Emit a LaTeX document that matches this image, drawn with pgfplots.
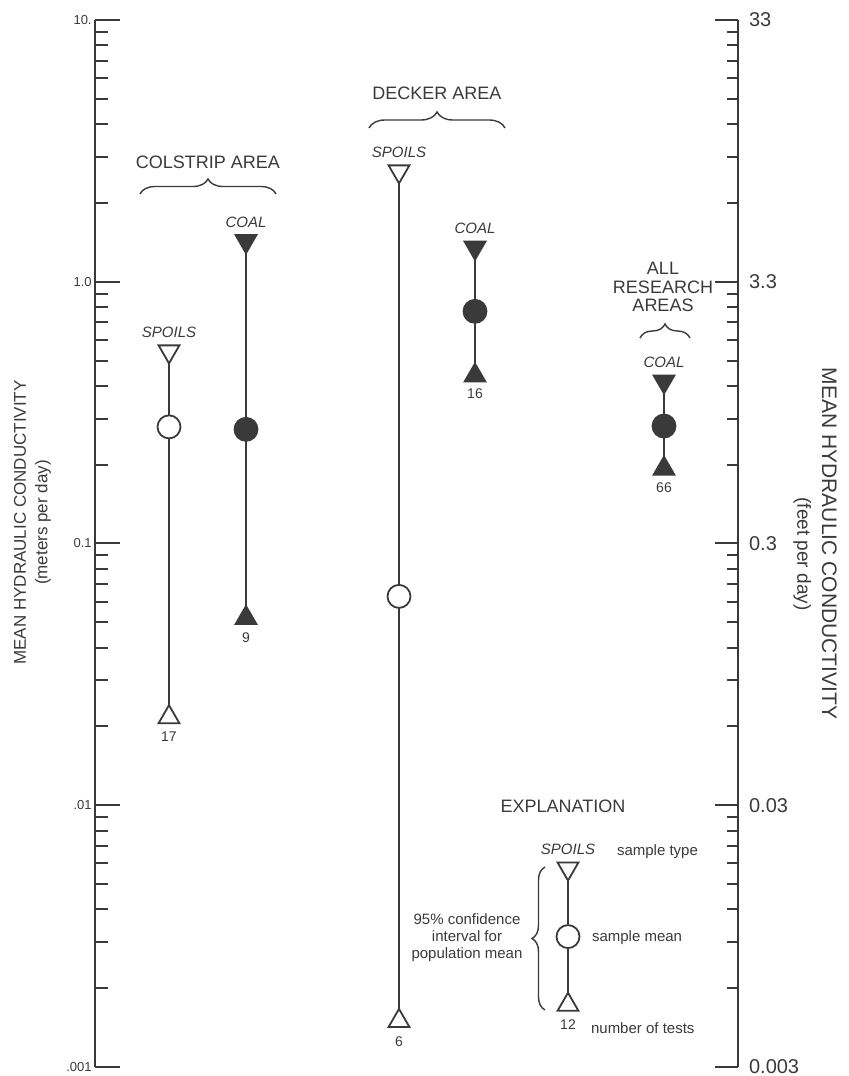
\documentclass[border=0pt]{standalone}
\usepackage{pgfplots}
\pgfplotsset{compat=1.18}
\usepackage{fontspec}
\setmainfont{Liberation Sans}
\usetikzlibrary{decorations.pathreplacing}
\definecolor{ink}{HTML}{3A3A3A}
\tikzset{
  lab/.style={font=\fontsize{9}{10}\selectfont, text=ink},
  sml/.style={font=\fontsize{7.5}{8.5}\selectfont, text=ink},
  num/.style={font=\fontsize{7}{8}\selectfont, text=ink},
}
\begin{document}
\begin{tikzpicture}
\useasboundingbox (-47.5pt,-4.5pt) rectangle (376.5pt,533.5pt);
% right axis (feet per day)
\begin{axis}[at={(0,0)}, anchor=south west, scale only axis,
    width=321.5pt, height=523.5pt,
    xmin=95, xmax=738, ymode=log, ymin=0.001, ymax=10,
    axis x line=none, axis y line*=right, clip=false,
    axis line style={ink, line width=1pt},
    tick style={ink, line width=1pt},
    tick align=inside,
    ytick={0.001,0.01,0.1,1,10},
    minor ytick={0.002,0.003,0.004,0.005,0.006,0.007,0.008,0.009,
                 0.02,0.03,0.04,0.05,0.06,0.07,0.08,0.09,
                 0.2,0.3,0.4,0.5,0.6,0.7,0.8,0.9,
                 2,3,4,5,6,7,8,9},
  major tick length=11.5pt, minor tick length=5.5pt,
  yticklabels={0.003,0.03,0.3,3.3,33},
  yticklabel style={font=\fontsize{10}{11}\selectfont, text=ink, xshift=2pt},
]
\addplot[draw=none] coordinates {(100,1)};
\node[rotate=-90, font=\fontsize{10.5}{11}\selectfont, text=ink] at (axis description cs:1.142,0.5) {MEAN HYDRAULIC CONDUCTIVITY};
\node[rotate=-90, font=\fontsize{9.5}{11}\selectfont, text=ink] at (axis description cs:1.100,0.49) {(feet per day)};
\end{axis}
% left axis (meters per day) with data
\begin{axis}[at={(0,0)}, anchor=south west, scale only axis,
    width=321.5pt, height=523.5pt,
    xmin=95, xmax=738, ymode=log, ymin=0.001, ymax=10,
    axis x line=none, axis y line*=left, clip=false,
    axis line style={ink, line width=1pt},
    tick style={ink, line width=1pt},
    tick align=inside,
    ytick={0.001,0.01,0.1,1,10},
    minor ytick={0.002,0.003,0.004,0.005,0.006,0.007,0.008,0.009,
                 0.02,0.03,0.04,0.05,0.06,0.07,0.08,0.09,
                 0.2,0.3,0.4,0.5,0.6,0.7,0.8,0.9,
                 2,3,4,5,6,7,8,9},
  major tick length=12.5pt, minor tick length=6.5pt,
  yticklabels={.001,.01,0.1,1.0,10.},
  yticklabel style={font=\fontsize{6.5}{7}\selectfont, text=ink, inner sep=1.5pt},
]
% confidence interval lines
\addplot[ink, line width=1pt] coordinates {(169,0.542) (169,0.0217)};
\addplot[ink, line width=1pt] coordinates {(246,1.43) (246,0.0519)};
\addplot[ink, line width=1pt] coordinates {(399,2.64) (399,0.0015)};
\addplot[ink, line width=1pt] coordinates {(475,1.35) (475,0.438)};
\addplot[ink, line width=1pt] coordinates {(664,0.416) (664,0.193)};
\addplot[ink, line width=1pt] coordinates {(568,0.00573) (568,0.00173)};
% spoils: open markers
\addplot[only marks, mark=triangle*, mark size=6pt,
  mark options={rotate=180, fill=white, draw=ink, line width=0.9pt}]
  coordinates {(169,0.542) (399,2.64) (568,0.00573)};
\addplot[only marks, mark=*, mark size=5.75pt,
  mark options={fill=white, draw=ink, line width=0.9pt}]
  coordinates {(169,0.279) (399,0.0628) (568,0.00315)};
\addplot[only marks, mark=triangle*, mark size=6pt,
  mark options={fill=white, draw=ink, line width=0.9pt}]
  coordinates {(169,0.0217) (399,0.0015) (568,0.00173)};
% coal: filled markers
\addplot[only marks, mark=triangle*, mark size=6pt,
  mark options={rotate=180, fill=ink, draw=ink, line width=0.9pt}]
  coordinates {(246,1.43) (475,1.35) (664,0.416)};
\addplot[only marks, mark=*, mark size=5.75pt,
  mark options={fill=ink, draw=ink, line width=0.9pt}]
  coordinates {(246,0.273) (475,0.771) (664,0.281)};
\addplot[only marks, mark=triangle*, mark size=6pt,
  mark options={fill=ink, draw=ink, line width=0.9pt}]
  coordinates {(246,0.0519) (475,0.438) (664,0.193)};
% sample type labels
\node[sml, yshift=9.5pt] at (axis cs:169,0.542) {\itshape SPOILS};
\node[sml, yshift=9.5pt] at (axis cs:246,1.43) {\itshape COAL};
\node[sml, yshift=9.5pt] at (axis cs:399,2.64) {\itshape SPOILS};
\node[sml, yshift=9.5pt] at (axis cs:475,1.35) {\itshape COAL};
\node[sml, yshift=9.5pt] at (axis cs:664,0.416) {\itshape COAL};
% number of tests
\node[num, yshift=-9.5pt] at (axis cs:169,0.0217) {17};
\node[num, yshift=-10pt] at (axis cs:246,0.0519) {9};
\node[num, yshift=-10.5pt] at (axis cs:399,0.0015) {6};
\node[num, yshift=-9pt] at (axis cs:475,0.438) {16};
\node[num, yshift=-9.5pt] at (axis cs:664,0.193) {66};
% group headings and braces
\node[lab] at (axis cs:208,2.868) {COLSTRIP AREA};
\draw[ink, line width=0.7pt, decorate, decoration={brace, amplitude=7.5pt}]
  (axis cs:140,2.164) -- (axis cs:276,2.164);
\node[lab] at (axis cs:437,5.262) {DECKER AREA};
\draw[ink, line width=0.7pt, decorate, decoration={brace, amplitude=8pt}]
  (axis cs:369,3.868) -- (axis cs:505,3.868);
\node[lab, align=center, font=\fontsize{9}{9.3}\selectfont] at (axis cs:663,0.955) {ALL\\RESEARCH\\AREAS};
\draw[ink, line width=0.7pt, decorate, decoration={brace, amplitude=7pt}]
  (axis cs:640,0.6097) -- (axis cs:690,0.6097);
% explanation
\node[lab] at (axis cs:563,0.00993) {EXPLANATION};
\node[sml, yshift=9.5pt] at (axis cs:568,0.00573) {\itshape SPOILS};
\node[sml, anchor=west] at (axis cs:610,0.006628) {sample type};
\node[sml, anchor=west] at (axis cs:585,0.003111) {sample mean};
\node[num, yshift=-10pt] at (axis cs:568,0.00173) {12};
\node[sml, anchor=west] at (axis cs:584,0.001409) {number of tests};
\node[sml, align=center] at (axis cs:467,0.003111) {95\% confidence\\interval for\\population mean};
\draw[ink, line width=0.7pt, decorate, decoration={brace, amplitude=6.5pt}]
  (axis cs:545,0.001652) -- (axis cs:545,0.005807);
% left axis label
\node[rotate=90, font=\fontsize{8.5}{10}\selectfont, text=ink] at (axis description cs:-0.1166,0.52) {MEAN HYDRAULIC CONDUCTIVITY};
\node[rotate=90, font=\fontsize{8.5}{9}\selectfont, text=ink] at (axis description cs:-0.0809,0.52) {(meters per day)};
\end{axis}
\end{tikzpicture}
\end{document}
